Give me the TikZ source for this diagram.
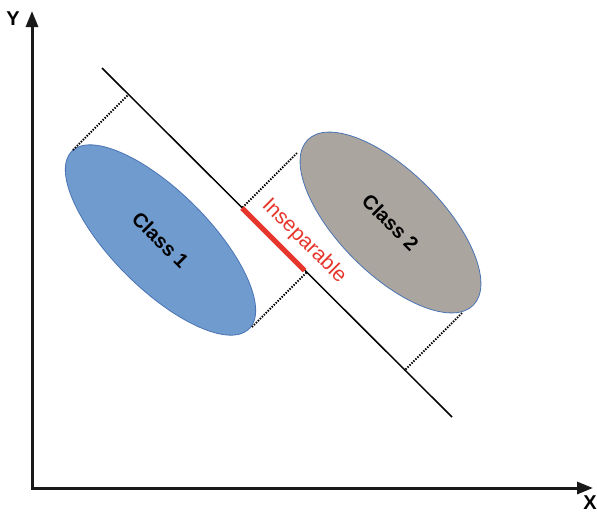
\documentclass[tikz,border=0pt]{standalone}
\usepackage{fontspec}
\setmainfont{Liberation Sans}
\usetikzlibrary{shapes.geometric,arrows.meta}
\definecolor{cone}{HTML}{709BCE}
\definecolor{coneline}{HTML}{4A74B4}
\definecolor{ctwo}{HTML}{ABA59F}
\definecolor{sepred}{HTML}{E6362B}
\begin{document}
\begin{tikzpicture}[x=1pt,y=-1pt,
  axisline/.style={line width=3pt, color=black!90, arrows={Triangle[length=16pt,width=12pt]-Triangle[length=16pt,width=12pt]}},
  classnode/.style={ellipse, draw=coneline, line width=0.8pt, inner sep=0pt, font=\bfseries\fontsize{20}{24}\selectfont, rotate=-45},
  axlabel/.style={font=\bfseries\fontsize{20}{24}\selectfont, inner sep=0pt},
  proj/.style={line width=2pt, dash pattern=on 1.4pt off 1.4pt},
  ]
\useasboundingbox (0,0) rectangle (597,512);
% axes
\coordinate (O) at (32,488);
\coordinate (ytip) at (32,11);
\coordinate (xtip) at (593,488);
\draw[axisline] (ytip) -- (O) -- (xtip);
\node[axlabel] (ylab) at (13,19) {Y};
\node[axlabel] (xlab) at (590,503) {X};
% classes
\node[classnode, fill=cone, minimum width=251pt, minimum height=97pt] (c1) at (160.5,240) {Class 1};
\node[classnode, fill=ctwo, minimum width=234pt, minimum height=103pt] (c2) at (390.5,222.5) {Class 2};
% projection line
\coordinate (la) at (102,68);
\coordinate (lb) at (452,417);
\draw[line width=1.5pt] (la) -- (lb);
% projection lines (dotted)
\coordinate (e1) at (73,150);   \coordinate (f1) at (128.5,94.5);
\coordinate (e2) at (252,327);  \coordinate (f2) at (306.5,272.5);
\coordinate (e3) at (297,153);  \coordinate (f3) at (242,208);
\coordinate (e4) at (462,313);  \coordinate (f4) at (404.5,370.5);
\draw[proj] (e1) -- (f1);
\draw[proj] (e2) -- (f2);
\draw[proj] (e3) -- (f3);
\draw[proj] (e4) -- (f4);
% inseparable segment
\coordinate (r1) at (242,208);
\coordinate (r2) at (304.5,270.5);
\draw[sepred, line width=5pt] (r1) -- (r2);
\node[text=sepred, rotate=-45, font=\fontsize{21}{25}\selectfont, inner sep=0pt] (insep) at (304,241) {Inseparable};
\end{tikzpicture}
\end{document}
